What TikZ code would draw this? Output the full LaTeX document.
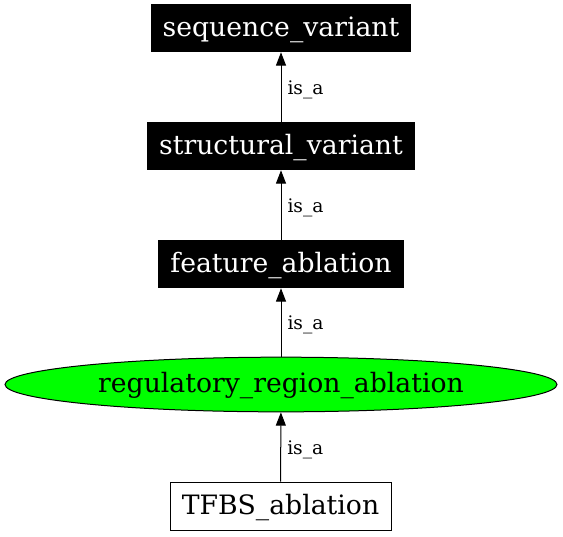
\documentclass[tikz,border=0pt]{standalone}
\usepackage{fontspec}
\setmainfont{DejaVu Serif}
\usetikzlibrary{shapes.geometric,arrows.meta}
\begin{document}
\begin{tikzpicture}[x=0.75pt,y=-0.75pt,
  txt/.style={font=\fontsize{20}{24}\selectfont,inner sep=0pt,text height=17pt,text depth=4.5pt},
  blackbox/.style={txt,rectangle,fill=black,text=white,minimum height=36pt},
  whitebox/.style={txt,rectangle,draw=black,fill=white,text=black,minimum height=36pt,line width=0.75pt},
  greenell/.style={txt,ellipse,draw=black,fill=green,minimum width=414pt,minimum height=41pt,line width=0.75pt},
  edge/.style={-{Triangle[length=10pt,width=7.5pt]},line width=0.75pt},
  elab/.style={font=\fontsize{14}{16}\selectfont,anchor=west,inner sep=0pt}]
\useasboundingbox (0,0) rectangle (563,536);
\node[blackbox,minimum width=195pt] (sv) at (281,28) {sequence\_variant};
\node[blackbox,minimum width=201pt] (st) at (281,146) {structural\_variant};
\node[blackbox,minimum width=184.5pt] (fa) at (281,264) {feature\_ablation};
\node[greenell] (rr) at (281,384.5) {regulatory\_region\_ablation};
\node[whitebox,minimum width=165.75pt] (tf) at (280.5,506) {TFBS\_ablation};
\draw[edge] (st) -- (sv) node[elab,pos=0.5,xshift=4.5pt,yshift=-2pt] {is\_a};
\draw[edge] (fa) -- (st) node[elab,pos=0.5,xshift=4.5pt,yshift=-2pt] {is\_a};
\draw[edge] (rr) -- (fa) node[elab,pos=0.5,xshift=4.5pt,yshift=-2pt] {is\_a};
\draw[edge] (tf) -- (rr) node[elab,pos=0.5,xshift=4.5pt,yshift=-2pt] {is\_a};
\end{tikzpicture}
\end{document}
